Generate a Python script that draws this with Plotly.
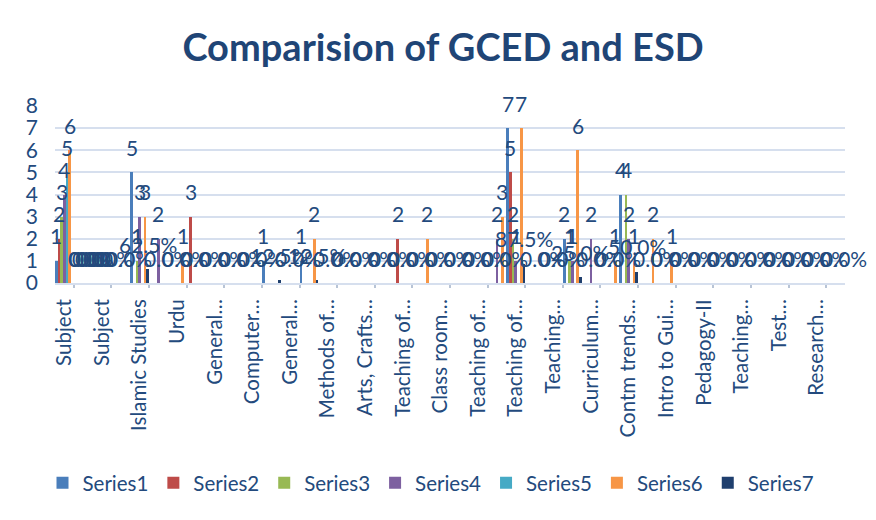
import plotly.graph_objects as go

# 42 category slots; only every other slot carries a label in the reference
categories = ["Subject", "", "Subject", "", "Islamic Studies", "", "Urdu", "",
              "General…", "", "Computer…", "", "General…", "", "Methods of…", "",
              "Arts, Crafts…", "", "Teaching of…", "", "Class room…", "",
              "Teaching of…", "", "Teaching of…", "", "Teaching…", "",
              "Curriculum…", "", "Contm trends…", "", "Intro to Gui…", "",
              "Pedagogy-II", "", "Teaching…", "", "Test…", "", "Research…", ""]

N = None
series1 = [1, 0, 0, N, 5, N, N, N, N, N, N, 1, N, 1, N, N, N, N, N, N, N,
           N, N, N, 7, N, N, 2, N, N, 4, N, N, N, N, N, N, N, N, N, N, N]
series2 = [2, 0, 0, N, N, N, N, 3, N, N, N, N, N, N, N, N, N, N, 2, N, N,
           N, N, N, 5, N, N, N, N, N, N, N, N, N, N, N, N, N, N, N, N, N]
series3 = [3, 0, 0, N, 1, N, N, N, N, N, N, N, N, N, N, N, N, N, N, N, N,
           N, N, N, 2, N, N, 1, N, N, 4, N, N, N, N, N, N, N, N, N, N, N]
series4 = [4, 0, 0, N, 3, 2, N, N, N, N, N, N, N, N, N, N, N, N, N, N, N,
           N, N, 2, 1, N, N, 1, 2, N, 2, N, N, N, N, N, N, N, N, N, N, N]
series5 = [5, 0, 0, N, N, N, N, N, N, N, N, N, N, N, N, N, N, N, N, N, N,
           N, N, N, N, N, N, N, N, N, N, N, N, N, N, N, N, N, N, N, N, N]
series6 = [6, 0, 0, N, 3, N, 1, N, N, N, N, N, N, 2, N, N, N, N, N, 2, N,
           N, N, 3, 7, N, N, 6, N, 1, 1, 2, 1, N, N, N, N, N, N, N, N, N]
series7 = [N, 0, 0, 0, 0.625, 0, 0, 0, 0, 0, 0, 0.125, 0, 0.125, 0, 0, 0, 0, 0, 0, 0,
           0, 0, 0, 0.875, 0, 0, 0.25, 0, 0, 0.5, 0, 0, 0, 0, 0, 0, 0, 0, 0, 0, 0]

series_names = ["Series1", "Series2", "Series3", "Series4", "Series5", "Series6", "Series7"]
series_values = [series1, series2, series3, series4, series5, series6, series7]
colors = ["#4A7EBB", "#BE4B48", "#98B954", "#7D60A0", "#46AAC5", "#F79646", "#1F3F6E"]
y_ticks = [0, 1, 2, 3, 4, 5, 6, 7, 8]

TXT = "#234A7D"
FONT = "Lato"
W, H = 876, 520
L, R, T, B = 47, 39, 98, 245  # page body adds 8px, compensated here
PW, PH = W - L - R, H - T - B

fig = go.Figure()
x_idx = list(range(len(categories)))
for name, vals, col in zip(series_names, series_values, colors):
    fig.add_trace(go.Bar(x=x_idx, y=vals, name=name, marker=dict(color=col, line=dict(width=0))))

# data labels (Excel style, sitting above each bar)
n_series = len(series_values)
annotations = []
for s, vals in enumerate(series_values):
    for k, v in enumerate(vals):
        if v is None:
            continue
        xc = k - 0.5 + (s + 0.5) / n_series
        txt = f"{v*100:.1f}%" if s == n_series - 1 else f"{v:g}"
        annotations.append(dict(x=xc, y=v, xref="x", yref="y", text=txt, showarrow=False,
                                yanchor="middle", xanchor="center", yshift=25,
                                font=dict(family=FONT, size=21, color=TXT)))

tickvals = [i for i, c in enumerate(categories) if c]
ticktext = [c for c in categories if c]

fig.update_layout(
    width=W, height=H,
    margin=dict(l=L, r=R, t=T, b=B, autoexpand=False),
    paper_bgcolor="white", plot_bgcolor="white",
    barmode="group", bargap=0, bargroupgap=0,
    title=dict(text="<b>Comparision of GCED and ESD</b>", x=435 / W, xanchor="center",
               xref="container", y=1 - 40 / H, yanchor="middle", yref="container",
               font=dict(family=FONT, size=38, color="#1F4576")),
    showlegend=True,
    legend=dict(orientation="h", x=423 / W, xanchor="center", y=1 - 475 / H, yanchor="middle",
                yref="container", xref="container",
                font=dict(family=FONT, size=20.5, color=TXT), traceorder="normal"),
    annotations=annotations,
    font=dict(family=FONT, color=TXT),
)
fig.update_xaxes(range=[-0.5, len(categories) - 0.5], tickmode="array", tickvals=tickvals,
                 ticktext=ticktext, tickangle=-90, showgrid=False, showline=True,
                 linecolor="#D6DFEE", linewidth=2, ticks="", ticklabelstandoff=6,
                 tickfont=dict(family=FONT, size=20.5, color=TXT),
                 minor=dict(ticks="outside", ticklen=3, tickwidth=2, tickcolor="#B8C4D6",
                            tick0=0.5, dtick=2, showgrid=False))
fig.update_yaxes(range=[0, 8], tickmode="array", tickvals=y_ticks, showgrid=True,
                 gridcolor="#D6DFEE", gridwidth=2, zeroline=False, ticks="",
                 ticklabelstandoff=16, tickfont=dict(family=FONT, size=21, color=TXT))

# chart-area border (right edge visible in the reference)
fig.add_shape(type="line", xref="paper", yref="paper", x0=1 + 26 / PW, x1=1 + 26 / PW,
              y0=-B / PH, y1=1 + T / PH, line=dict(color="#D3E0F1", width=2))

fig.write_html("out.html")
